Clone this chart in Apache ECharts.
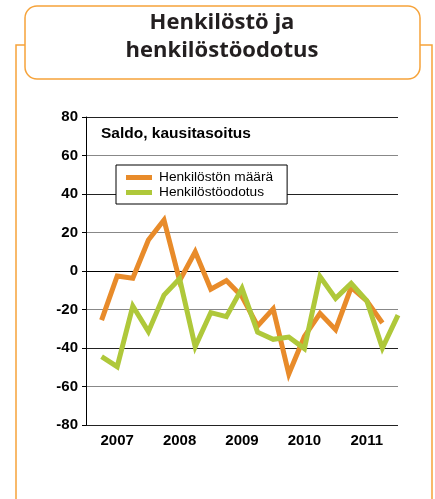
<!DOCTYPE html>
<html>
<head>
<meta charset="utf-8">
<script src="https://cdn.jsdelivr.net/npm/echarts@6/dist/echarts.min.js"></script>
<style>
  html, body { margin: 0; padding: 0; background: #fff; }
  #chart { width: 435px; height: 499px; }
</style>
</head>
<body>
<div id="chart"></div>
<script>
const years = ["2007", "2008", "2009", "2010", "2011"];
// quarterly saldo, quarter 1 = 2007 Q1
const staffCount = [-25.5, -2.6, -3.8, 16.1, 26.5, -5, 10, -9.5, -5, -13.3,
  -28.5, -19.7, -53.5, -34, -22, -30.5, -8.5, -15.5, -27];
const staffOutlook = [-44.5, -49.7, -18.2, -31.5, -12.5, -4, -39.3, -21.6, -23.7, -9,
  -31.8, -35.5, -34.3, -40.3, -2.9, -14.2, -6.4, -15.5, -40, -22.9];
const yTicks = [-80, -60, -40, -20, 0, 20, 40, 60, 80];

const ORANGE = "#e88b2a";
const GREEN = "#afc83a";
const FRAME = "#f6a33a";

const toPoints = arr => arr.map((v, i) => [i + 1, v]);

const chart = echarts.init(document.getElementById("chart"), null, { renderer: "canvas" });

chart.setOption({
  animation: false,
  backgroundColor: "#fff",
  grid: { left: 86, right: 37, top: 117, bottom: 74 },
  graphic: [
    // outer frame
    {
      type: "polyline",
      shape: { points: [[16, 499], [16, 45], [25, 45]] },
      style: { stroke: FRAME, lineWidth: 1.5, fill: null }
    },
    {
      type: "polyline",
      shape: { points: [[420, 45], [432, 45], [432, 499]] },
      style: { stroke: FRAME, lineWidth: 1.5, fill: null }
    },
    // title box
    {
      type: "rect",
      shape: { x: 25, y: 6, width: 395, height: 73, r: 12 },
      style: { fill: "#fff", stroke: FRAME, lineWidth: 1.5 }
    },
    {
      type: "text",
      x: 222, y: 23,
      style: {
        text: "Henkilöstö ja", fill: "#231f20",
        font: "bold 22px 'Open Sans'", align: "center", verticalAlign: "middle"
      }
    },
    {
      type: "text",
      x: 222, y: 51,
      style: {
        text: "henkilöstöodotus", fill: "#231f20",
        font: "bold 22px 'Open Sans'", align: "center", verticalAlign: "middle"
      }
    },
    {
      type: "text",
      x: 101, y: 134, z: 10,
      style: {
        text: "Saldo, kausitasoitus", fill: "#000",
        font: "bold 15.5px 'Liberation Sans'", verticalAlign: "middle"
      }
    }
  ],
  legend: {
    orient: "vertical",
    left: 116,
    top: 165,
    padding: [5, 14, 4, 10],
    itemGap: 0,
    itemWidth: 26,
    itemHeight: 5,
    icon: "rect",
    borderColor: "#000",
    borderWidth: 1,
    backgroundColor: "#fff",
    textStyle: { fontFamily: "Liberation Sans", fontSize: 13.7, color: "#000", lineHeight: 15, padding: [0, 0, 0, 2] },
    data: ["Henkilöstön määrä", "Henkilöstöodotus"]
  },
  xAxis: [
    {
      type: "category",
      data: years,
      boundaryGap: true,
      axisLine: { lineStyle: { color: "#000", width: 1 } },
      axisTick: { inside: true, length: 7, lineStyle: { color: "#000" } },
      axisLabel: {
        margin: 8, color: "#000", fontFamily: "Liberation Sans",
        fontWeight: "bold", fontSize: 15
      },
      splitLine: { show: false }
    },
    {
      type: "value",
      min: 0,
      max: 20,
      show: false,
      position: "bottom"
    }
  ],
  yAxis: {
    type: "value",
    min: yTicks[0],
    max: yTicks[yTicks.length - 1],
    interval: 20,
    axisLine: { show: true, lineStyle: { color: "#000", width: 1 } },
    axisTick: { show: true, length: 4, lineStyle: { color: "#000" } },
    axisLabel: {
      margin: 8, color: "#000", fontFamily: "Liberation Sans",
      fontWeight: "bold", fontSize: 15
    },
    splitLine: { show: true, lineStyle: { color: ["#222", "#888"], width: 1.2 } }
  },
  series: [
    {
      name: "Henkilöstön määrä",
      type: "line",
      xAxisIndex: 1,
      data: toPoints(staffCount),
      showSymbol: false,
      color: ORANGE,
      lineStyle: { color: ORANGE, width: 5, join: "miter", cap: "butt" }
    },
    {
      name: "Henkilöstöodotus",
      type: "line",
      xAxisIndex: 1,
      data: toPoints(staffOutlook),
      showSymbol: false,
      color: GREEN,
      lineStyle: { color: GREEN, width: 5, join: "miter", cap: "butt" }
    }
  ]
});
</script>
</body>
</html>
